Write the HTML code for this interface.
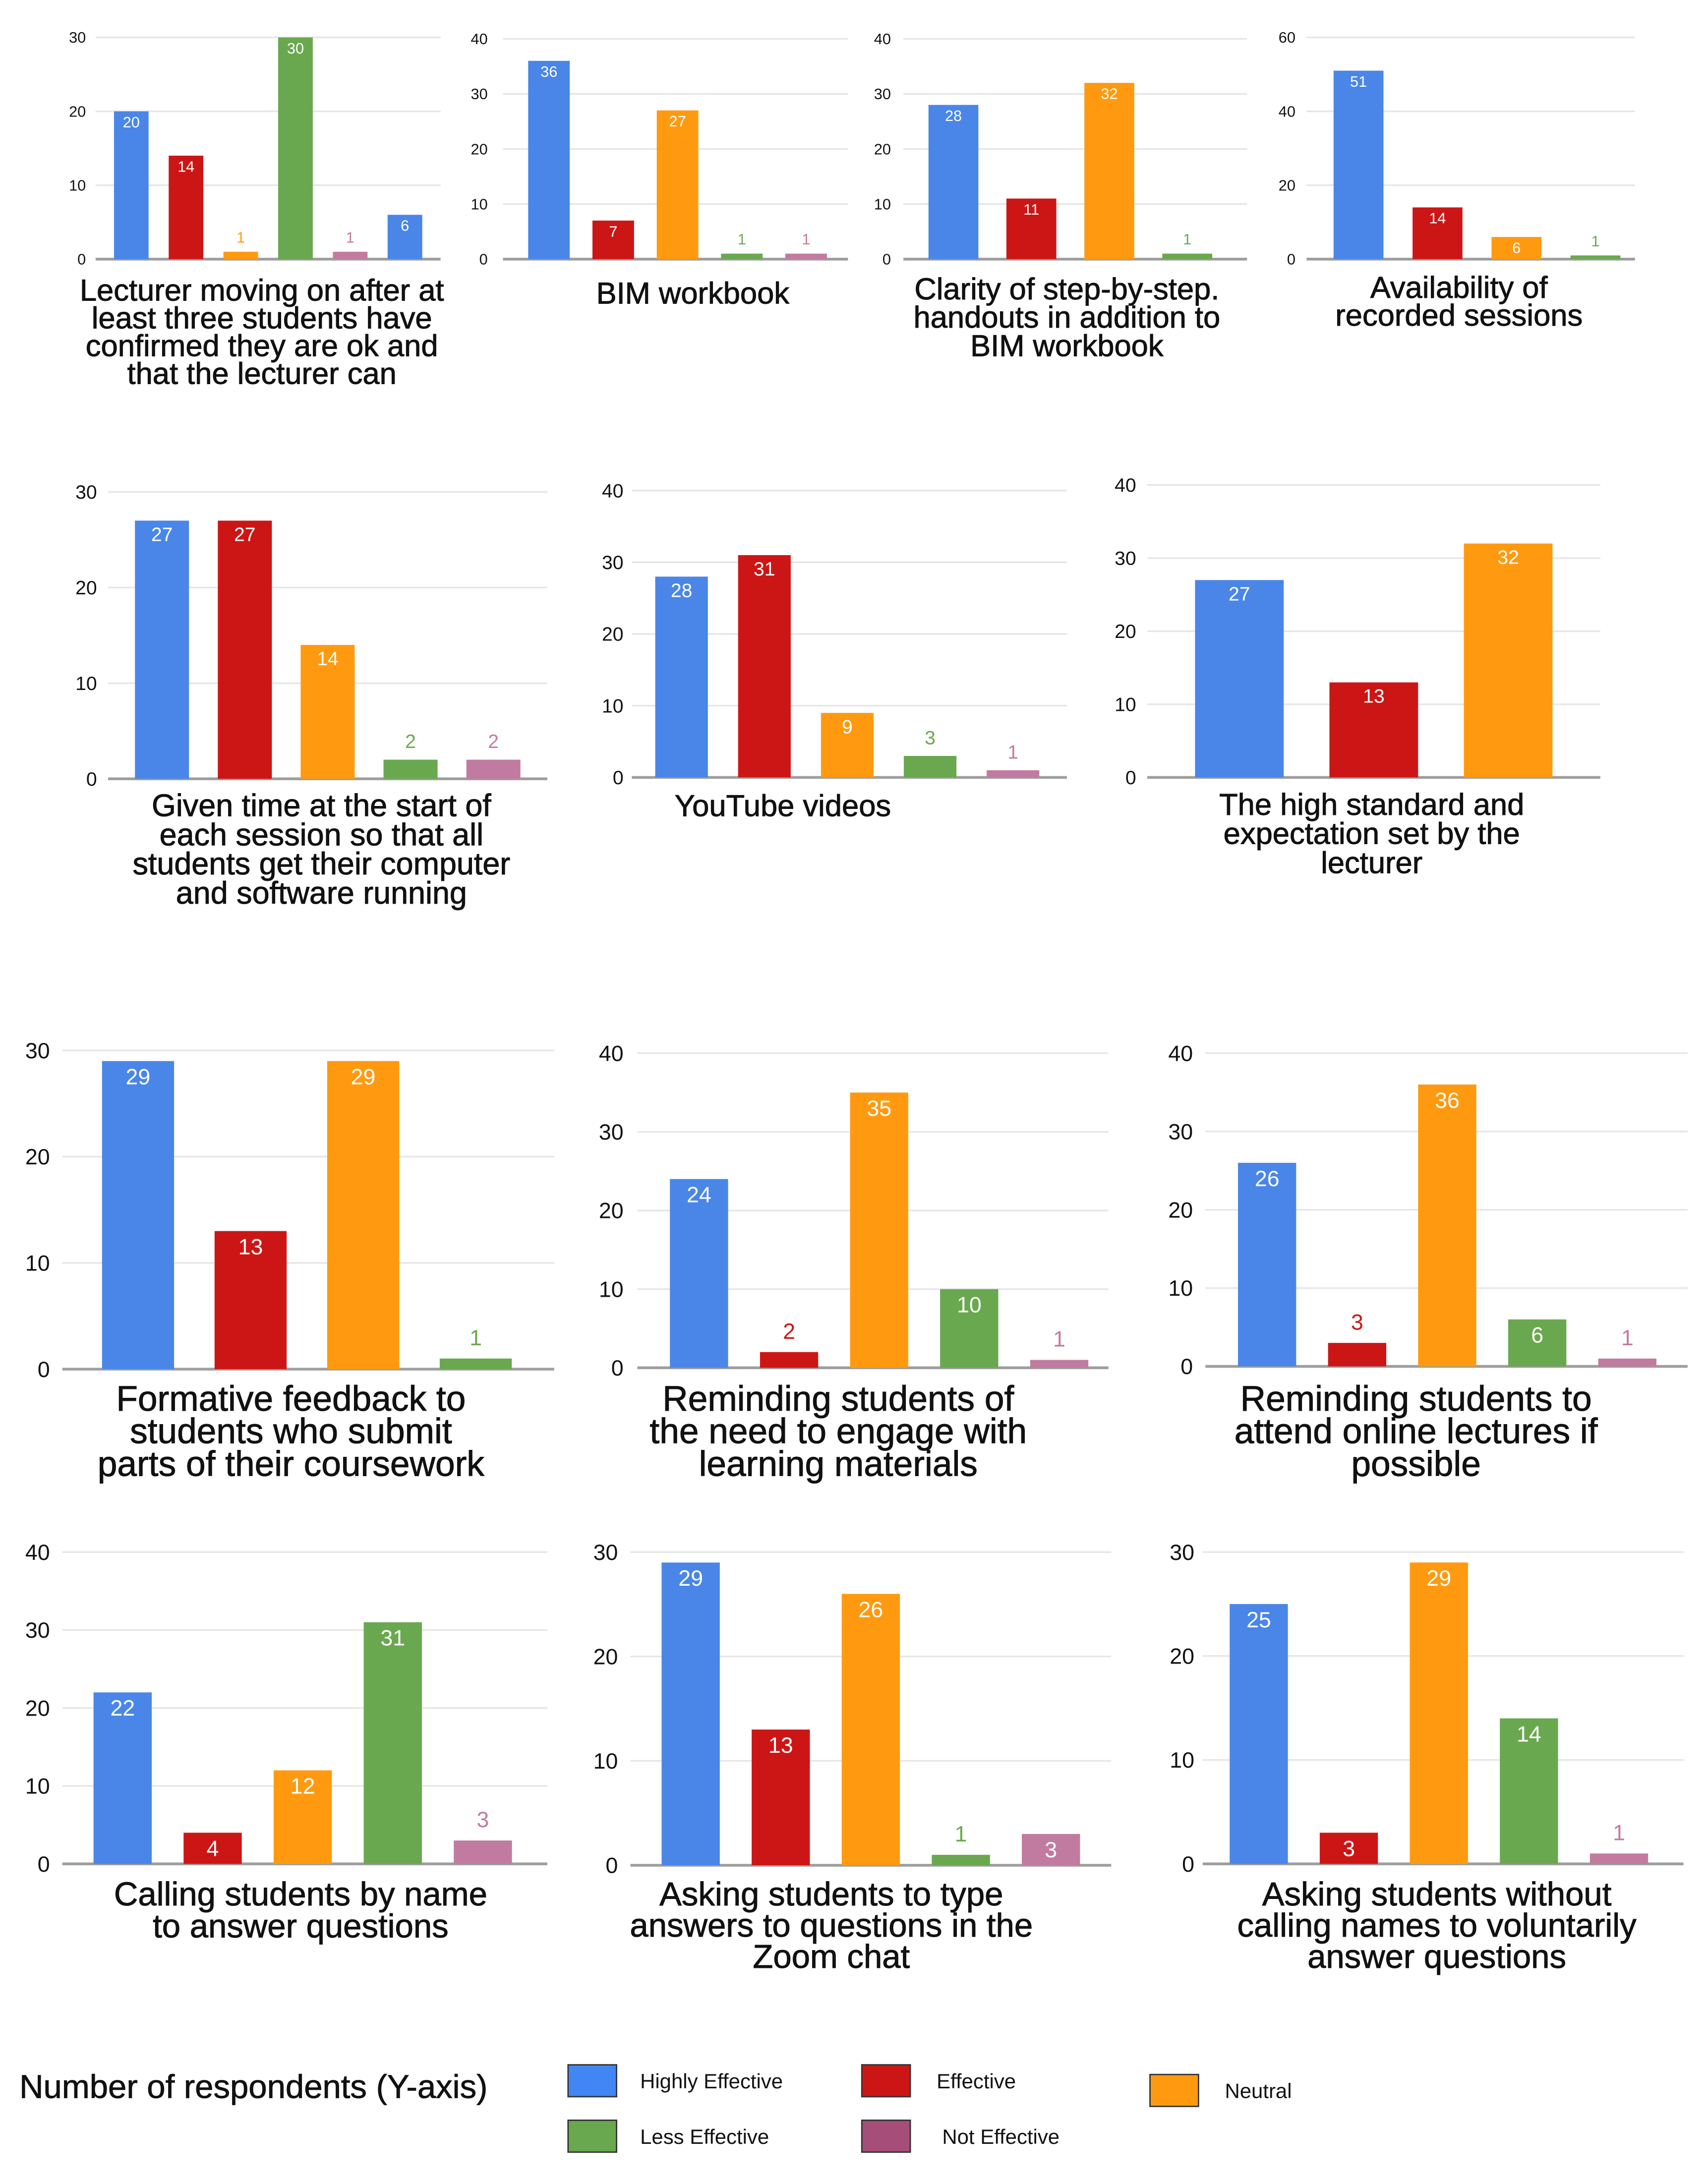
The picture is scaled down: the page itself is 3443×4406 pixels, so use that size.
<!DOCTYPE html>
<html><head><meta charset="utf-8">
<style>
html,body{margin:0;padding:0;background:#fff;}
svg{display:block;}
text{font-family:"Liberation Sans",Arial,sans-serif;}
</style></head>
<body>
<svg id="chart" width="3443" height="4406" viewBox="0 0 1232 1576" preserveAspectRatio="none" xmlns="http://www.w3.org/2000/svg"></svg>
<script>
// ---- data ----
const seriesNames = ["Highly Effective","Effective","Neutral","Less Effective","Not Effective"];
const c1Values = [20,14,1,30,1,6];
const c2Values = [36,7,27,1,1];
const c3Values = [28,11,32,1];
const c4Values = [51,14,6,1];
const c5Values = [27,27,14,2,2];
const c6Values = [28,31,9,3,1];
const c7Values = [27,13,32];
const c8Values = [29,13,29,1];
const c9Values = [24,2,35,10,1];
const c10Values = [26,3,36,6,1];
const c11Values = [22,4,12,31,3];
const c12Values = [29,13,26,1,3];
const c13Values = [25,3,29,14,1];
const c1Ticks=[0,10,20,30], c2Ticks=[0,10,20,30,40], c3Ticks=[0,10,20,30,40], c4Ticks=[0,20,40,60];
const c5Ticks=[0,10,20,30], c6Ticks=[0,10,20,30,40], c7Ticks=[0,10,20,30,40];
const c8Ticks=[0,10,20,30], c9Ticks=[0,10,20,30,40], c10Ticks=[0,10,20,30,40];
const c11Ticks=[0,10,20,30,40], c12Ticks=[0,10,20,30], c13Ticks=[0,10,20,30];
const c1Title=["Lecturer moving on after at","least three students have","confirmed they are ok and","that the lecturer can"];
const c2Title=["BIM workbook"];
const c3Title=["Clarity of step-by-step.","handouts in addition to","BIM workbook"];
const c4Title=["Availability of","recorded sessions"];
const c5Title=["Given time at the start of","each session so that all","students get their computer","and software running"];
const c6Title=["YouTube videos"];
const c7Title=["The high standard and","expectation set by the","lecturer"];
const c8Title=["Formative feedback to","students who submit","parts of their coursework"];
const c9Title=["Reminding students of","the need to engage with","learning materials"];
const c10Title=["Reminding students to","attend online lectures if","possible"];
const c11Title=["Calling students by name","to answer questions"];
const c12Title=["Asking students to type","answers to questions in the","Zoom chat"];
const c13Title=["Asking students without","calling names to voluntarily","answer questions"];

const COLORS=["#4a86e8","#cc1616","#ff9a10","#6aa84f","#c27ba0","#4a86e8"];
const NS="http://www.w3.org/2000/svg";
const svg=document.getElementById('chart');
function el(tag,attrs,parent){const e=document.createElementNS(NS,tag);for(const k in attrs)e.setAttribute(k,attrs[k]);(parent||svg).appendChild(e);return e;}

// layout only (pixels): x0/x1 bar band, gx0/gx1 gridline extent
const layout=[
 {v:c1Values,t:c1Ticks,title:c1Title,x0:75,x1:312,gx0:69,gx1:318,top:27,base:187,tickX:62,bw:25,fs:11,tfs:22,tcx:189,ty:217,lh:20},
 {v:c2Values,t:c2Ticks,title:c2Title,x0:373,x1:605,gx0:363,gx1:612,top:28,base:187,tickX:352,bw:30,fs:11,tfs:22,tcx:500,ty:219,lh:20},
 {v:c3Values,t:c3Ticks,title:c3Title,x0:660,x1:885,gx0:652,gx1:900,top:28,base:187,tickX:643,bw:36,fs:11,tfs:22,tcx:770,ty:216,lh:20.5},
 {v:c4Values,t:c4Ticks,title:c4Title,x0:952,x1:1180,gx0:943,gx1:1180,top:27,base:187,tickX:935,bw:36,fs:11,tfs:22,tcx:1053,ty:215,lh:20},
 {v:c5Values,t:c5Ticks,title:c5Title,x0:87,x1:386,gx0:78,gx1:395,top:355,base:562,tickX:70,bw:39,fs:14,tfs:22.5,tcx:232,ty:589,lh:21},
 {v:c6Values,t:c6Ticks,title:c6Title,x0:462,x1:761,gx0:456,gx1:770,top:354,base:561,tickX:450,bw:38,fs:14,tfs:22,tcx:565,ty:589,lh:21},
 {v:c7Values,t:c7Ticks,title:c7Title,x0:846,x1:1137,gx0:828,gx1:1155,top:350,base:561,tickX:820,bw:64,fs:14,tfs:22,tcx:990,ty:588,lh:21},
 {v:c8Values,t:c8Ticks,title:c8Title,x0:59,x1:384,gx0:45,gx1:400,top:758,base:988,tickX:36,bw:52,fs:16,tfs:25.5,tcx:210,ty:1018,lh:23.5},
 {v:c9Values,t:c9Ticks,title:c9Title,x0:472,x1:797,gx0:460,gx1:800,top:760,base:987,tickX:450,bw:42,fs:16,tfs:25.5,tcx:605,ty:1018,lh:23.5},
 {v:c10Values,t:c10Ticks,title:c10Title,x0:882,x1:1207,gx0:870,gx1:1218,top:760,base:986,tickX:861,bw:42,fs:16,tfs:25.5,tcx:1022,ty:1018,lh:23.5},
 {v:c11Values,t:c11Ticks,title:c11Title,x0:56,x1:381,gx0:45,gx1:395,top:1120,base:1345,tickX:36,bw:42,fs:16,tfs:24,tcx:217,ty:1375,lh:23},
 {v:c12Values,t:c12Ticks,title:c12Title,x0:466,x1:791,gx0:455,gx1:802,top:1120,base:1346,tickX:446,bw:42,fs:16,tfs:24,tcx:600,ty:1375,lh:22.5},
 {v:c13Values,t:c13Ticks,title:c13Title,x0:876,x1:1201,gx0:868,gx1:1215,top:1120,base:1345,tickX:862,bw:42,fs:16,tfs:24,tcx:1037,ty:1375,lh:22.5}
];

layout.forEach((c,ci)=>{
  const g=el('g',{});
  
  
  const max=c.t[c.t.length-1];
  const y=v=>c.base-(c.base-c.top)*v/max;
  c.t.forEach(tv=>{
    const ln=el('line',{x1:c.gx0,x2:c.gx1,y1:y(tv),y2:y(tv),stroke:tv===0?'#9e9e9e':'#e6e6e6','stroke-width':tv===0?2:1.2},g);
    
    
    const tx=el('text',{x:c.tickX,y:y(tv)+c.fs*0.35,'text-anchor':'end','font-size':c.fs,fill:'#111'},g);
    
    
    tx.textContent=tv;
  });
  const n=c.v.length;
  const slot=(c.x1-c.x0)/n;
  c.v.forEach((v,i)=>{
    const cx=c.x0+slot*(i+0.5);
    const h=c.base-y(v);
    const r=el('rect',{x:cx-c.bw/2,y:y(v),width:c.bw,height:h,fill:COLORS[i]},g);
    
    
    const inside=h>=c.fs+4;
    const lt=el('text',{x:cx,y:inside?y(v)+c.fs*1.05:y(v)-c.fs*0.6,'text-anchor':'middle','font-size':c.fs,fill:inside?'#fff':COLORS[i]},g);
    
    
    lt.textContent=v;
  });
  c.title.forEach((line,li)=>{
    const tt=el('text',{x:c.tcx,y:c.ty+li*c.lh,'text-anchor':'middle','font-size':c.tfs,fill:'#111',stroke:'#111','stroke-width':0.35},g);
    
    
    tt.textContent=line;
  });
});

// legend
const yl=el('text',{x:14,y:1514,'font-size':24,fill:'#111',stroke:'#111','stroke-width':0.3});


yl.textContent='Number of respondents (Y-axis)';
const legPos=[[410,1490,462],[622,1490,676],[830,1497,884],[410,1530,462],[622,1530,680]];
const legCols=["#4286f4","#cc1616","#ff9a10","#6aa84f","#a64d79"];
seriesNames.forEach((s,i)=>{
  const p=legPos[i];
  const r=el('rect',{x:p[0],y:p[1],width:35,height:23,fill:legCols[i],stroke:'#333','stroke-width':1});
  
  
  const t=el('text',{x:p[2],y:p[1]+17,'font-size':15,fill:'#111'});
  
  
  t.textContent=s;
});
</script>
</body></html>
